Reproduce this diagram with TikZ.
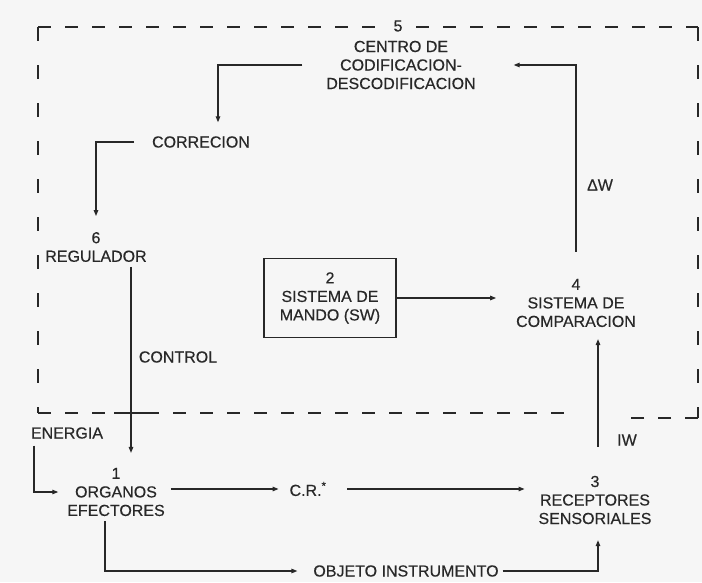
\documentclass[tikz,border=0pt]{standalone}
\usepackage{fontspec}
\setmainfont{Liberation Sans}[FakeBold=0.4]
\usetikzlibrary{arrows.meta}
\definecolor{paper}{RGB}{246,246,246}
\definecolor{ink}{RGB}{40,40,40}
\begin{document}
\begin{tikzpicture}[x=1pt,y=-1pt,
  lbl/.style={font=\fontsize{16}{18.5}\selectfont, text=ink, inner sep=0pt, outer sep=0pt, align=center},
  conn/.style={draw=ink, line width=1.2pt, -{Triangle[length=6pt,width=4.5pt]}},
  hdash/.style={draw=ink, line width=1.3pt, dash pattern=on 13pt off 14pt},
  vdash/.style={draw=ink, line width=1.3pt, dash pattern=on 14pt off 24pt},
  boxed/.style={lbl, draw=ink, line width=1.4pt, minimum width=132pt, minimum height=79pt}]
\fill[paper] (0,0) rectangle (702,582);
\useasboundingbox (0,0) rectangle (702,582);

% dashed boundary of the control loop
\draw[hdash] (38,27) -- (698,27);
\draw[vdash] (38,27) -- (38,413);
\draw[vdash] (698,27) -- (698,418);
\draw[hdash] (38,413) -- (577,413);
\draw[hdash] (698,418) -- (618,418);
\draw[draw=ink, line width=1.3pt] (114,413) -- (150,413);

% blocks
\node[lbl, fill=paper, inner xsep=10pt, inner ysep=3pt] (num5) at (398,26) {5};
\node[lbl] (cod) at (401,65) {CENTRO DE\\CODIFICACION-\\DESCODIFICACION};
\node[lbl] (corr) at (201,142) {CORRECION};
\node[lbl] (reg) at (96,247) {6\\REGULADOR};
\node[boxed] (mando) at (330,298) {2\\SISTEMA DE\\MANDO (SW)};
\node[lbl] (comp) at (576,303) {4\\SISTEMA DE\\COMPARACION};
\node[lbl] (en) at (67,433) {ENERGIA};
\node[lbl] (org) at (116,492) {1\\ORGANOS\\EFECTORES};
\node[lbl] (cr) at (308,489) {C.R.\textsuperscript{*}};
\node[lbl] (rec) at (595,500) {3\\RECEPTORES\\SENSORIALES};
\node[lbl] (obj) at (406,571) {OBJETO INSTRUMENTO};

% connector labels
\node[lbl] (lctrl) at (178,357) {CONTROL};
\node[lbl] (ldw) at (600,185) {ΔW};
\node[lbl] (liw) at (627,440) {IW};

% connectors
\draw[conn] ([xshift=-24pt]cod.west) -| ([xshift=17pt,yshift=14pt]corr.north);
\draw[conn] ([xshift=-18pt]corr.west) -| ([yshift=16pt]reg.north);
\draw[conn] ([xshift=35pt,yshift=-5pt]reg.south) -- ([xshift=35pt,yshift=15pt]reg.south |- org.north);
\draw[conn] ([xshift=3pt,yshift=-7pt]en.south west) |- ([xshift=-9pt]org.west);
\draw[conn, shorten <=6pt, shorten >=11pt] (org.east |- cr.west) -- (cr.west);
\draw[conn, shorten <=21pt, shorten >=14pt] (cr.east) -- (cr.east -| rec.west);
\draw[conn, shorten >=16pt] ([xshift=-11pt,yshift=-5pt]org.south) |- (obj.west);
\draw[conn, shorten <=4pt, shorten >=16pt] (obj.east) -| ([xshift=3pt]rec.south);
\draw[conn, shorten <=29pt, shorten >=12pt] ([xshift=3pt]rec.north) -- ([xshift=3pt]rec.north |- comp.south);
\draw[conn, shorten <=27pt, shorten >=38pt] (comp.north) |- (cod.east);
\draw[conn, shorten >=20pt] (mando.east) -- (mando.east -| comp.west);
\end{tikzpicture}
\end{document}
